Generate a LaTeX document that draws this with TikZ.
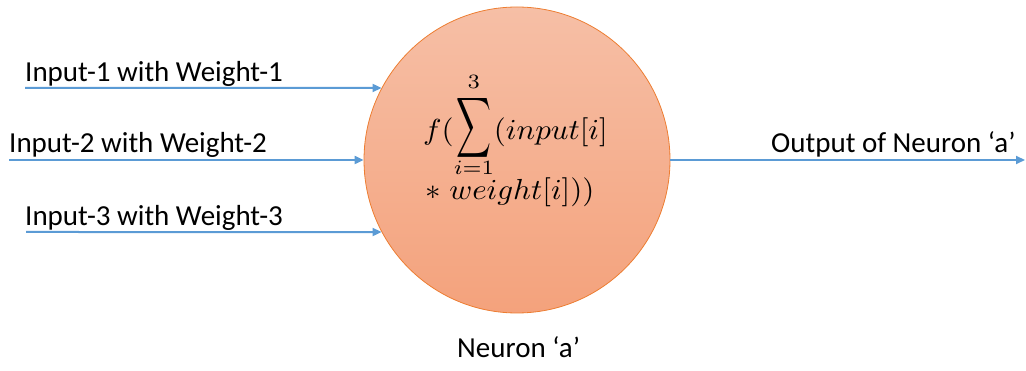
\documentclass[tikz,border=0pt]{standalone}
\usepackage{amsmath}
\usepackage{graphicx}
\usepackage{fontspec}
\setmainfont{Carlito}
\usetikzlibrary{arrows.meta}
\definecolor{arrowblue}{RGB}{91,155,213}
\definecolor{neurontop}{RGB}{246,191,166}
\definecolor{neuronbot}{RGB}{244,162,124}
\definecolor{neuronedge}{RGB}{237,125,49}
\newcommand{\bigsumop}{\mathop{\raisebox{1.8pt}{$\vcenter{\hbox{\scalebox{0.78}[1.45]{$\displaystyle\sum$}}}$}}\limits}
\newcommand{\mathbig}[1]{\scalebox{3.1}[2.9]{#1}}
\tikzset{
  label text/.style={anchor=base west, inner sep=0pt, font=\fontsize{29}{35}\selectfont},
  math text/.style={anchor=base west, inner sep=0pt},
  conn/.style={draw=arrowblue, line width=2pt, -{Triangle[length=9pt,width=8pt]}},
  neuronbox/.style={circle, minimum size=306pt, inner sep=0pt, draw=neuronedge, line width=0.8pt,
    top color=neurontop, bottom color=neuronbot}
}
\begin{document}
\begin{tikzpicture}[x=1pt,y=-1pt]
\useasboundingbox (0,0) rectangle (1026,371);
\node[neuronbox] (neuron) at (517,160) {};
\node[math text] (l1) at (423,140) {\mathbig{$\displaystyle f(\bigsumop_{\raisebox{1.5pt}[0pt][0pt]{$\scriptstyle i=1$}}^{3}(input[i]$}};
\node[math text] (l2) at (425,200) {\mathbig{$*\;weight[i]))$}};
\coordinate (in1) at (25,88);
\coordinate (in2) at (9,160);
\coordinate (in3) at (26,232);
\coordinate (out) at (1025,160);
\node[label text] (t1) at (25,82) {Input-1 with Weight-1};
\node[label text] (t2) at (9,153) {Input-2 with Weight-2};
\node[label text] (t3) at (25,226) {Input-3 with Weight-3};
\node[label text] (t4) at (771,153) {Output of Neuron ‘a’};
\node[label text] (t5) at (457,358) {Neuron ‘a’};
\draw[conn] (in1) -- (neuron.152);
\draw[conn] (in2) -- (neuron.west);
\draw[conn] (in3) -- (neuron.208);
\draw[conn] (neuron.east) -- (out);
\end{tikzpicture}
\end{document}
